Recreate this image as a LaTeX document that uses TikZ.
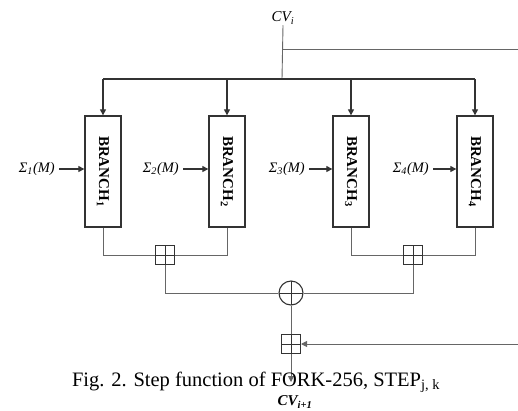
\documentclass[tikz,border=0pt]{standalone}
\usepackage{fontspec}
\setmainfont{Liberation Serif}
\usetikzlibrary{arrows.meta}
\begin{document}
\begin{tikzpicture}[x=1pt,y=-1pt,
  conn/.style={draw=black!60, line width=0.9pt},
  busline/.style={draw=black!80, line width=1.1pt},
  arr/.style={-{Triangle[length=6pt,width=6pt]}, draw=black!80, line width=1.1pt},
  branchbox/.style={draw=black!80, line width=1.3pt, minimum width=36pt, minimum height=111pt, inner sep=0pt},
  branchtext/.style={font=\fontsize{15}{15}\selectfont\bfseries, rotate=-90},
  inlabel/.style={font=\fontsize{14.5}{14.5}\selectfont\itshape, anchor=east, inner sep=1pt},
  addbox/.style={draw=black!80, line width=1pt, minimum size=19pt, inner sep=0pt,
    path picture={\draw[black!80, line width=0.9pt] (path picture bounding box.north) -- (path picture bounding box.south)
      (path picture bounding box.west) -- (path picture bounding box.east);}},
  xorc/.style={draw=black!80, circle, line width=1.1pt, minimum size=24pt, inner sep=0pt,
    path picture={\draw[black!80, line width=1pt] (path picture bounding box.north) -- (path picture bounding box.south)
      (path picture bounding box.west) -- (path picture bounding box.east);}},
  cvlabel/.style={font=\fontsize{15}{15}\selectfont\itshape}
]
\useasboundingbox (0,0) rectangle (518,410);

% top
\node[cvlabel, inner sep=1pt] (cvi) at (283,18) {CV\textsubscript{i}};
\coordinate (fork) at (282,49);
\coordinate (rtop) at (518,49);
\coordinate (busM) at (282,79);
\coordinate (busL) at (103,79);
\coordinate (busR) at (475,79);

% branches
\node[branchbox] (b1) at (103,171.5) {};
\node[branchbox] (b2) at (227,171.5) {};
\node[branchbox] (b3) at (351,171.5) {};
\node[branchbox] (b4) at (475,171.5) {};
\node[branchtext] (t1) at (b1) {BRANCH\textsubscript{1}};
\node[branchtext] (t2) at (b2) {BRANCH\textsubscript{2}};
\node[branchtext] (t3) at (b3) {BRANCH\textsubscript{3}};
\node[branchtext] (t4) at (b4) {BRANCH\textsubscript{4}};

% inputs
\node[inlabel] (s1) at (56,169) {Σ\textsubscript{1}(M)};
\node[inlabel] (s2) at (180,169) {Σ\textsubscript{2}(M)};
\node[inlabel] (s3) at (306,169) {Σ\textsubscript{3}(M)};
\node[inlabel] (s4) at (430,169) {Σ\textsubscript{4}(M)};
\draw[arr] (s1.east) ++(3,0) -- (s1.east -| b1.west);
\draw[arr] (s2.east) ++(3,0) -- (s2.east -| b2.west);
\draw[arr] (s3.east) ++(3,0) -- (s3.east -| b3.west);
\draw[arr] (s4.east) ++(3,0) -- (s4.east -| b4.west);

% adders
\node[addbox] (p1) at (165,255) {};
\node[addbox] (p2) at (413,255) {};
\node[xorc] (x) at (291,293) {};
\node[addbox] (p3) at (291,344) {};
\coordinate (rin) at (518,344);
\coordinate (out) at (291,382);

% top connectors
\draw[conn] (cvi.south) -- (busM);
\draw[conn] (fork) -- (rtop);
\draw[busline] (busL) -- (busR);
\draw[arr] (busL) -- (b1.north);
\draw[arr] (b2.north |- busL) -- (b2.north);
\draw[arr] (b3.north |- busL) -- (b3.north);
\draw[arr] (busR) -- (b4.north);

% lower connectors
\draw[conn] (b1.south) |- (p1.west);
\draw[conn] (b2.south) |- (p1.east);
\draw[conn] (b3.south) |- (p2.west);
\draw[conn] (b4.south) |- (p2.east);
\draw[conn] (p1.south) |- (x.west);
\draw[conn] (p2.south) |- (x.east);
\draw[conn] (x.south) -- (p3.north);
\draw[arr, draw=black!60, line width=0.9pt] (rin) -- (p3.east);
\draw[arr, draw=black!60, line width=0.9pt] (p3.south) -- (out);

% caption and output label
\node[font=\fontsize{20.5}{20.5}\selectfont, anchor=base, inner sep=0pt] (cap) at (256,386) {Fig. 2. Step function of FORK-256, STEP\textsubscript{j, k}};
\node[font=\fontsize{15}{15}\selectfont\bfseries\itshape, inner sep=0pt] (cvo) at (295,402) {CV\textsubscript{i+1}};
\end{tikzpicture}
\end{document}
